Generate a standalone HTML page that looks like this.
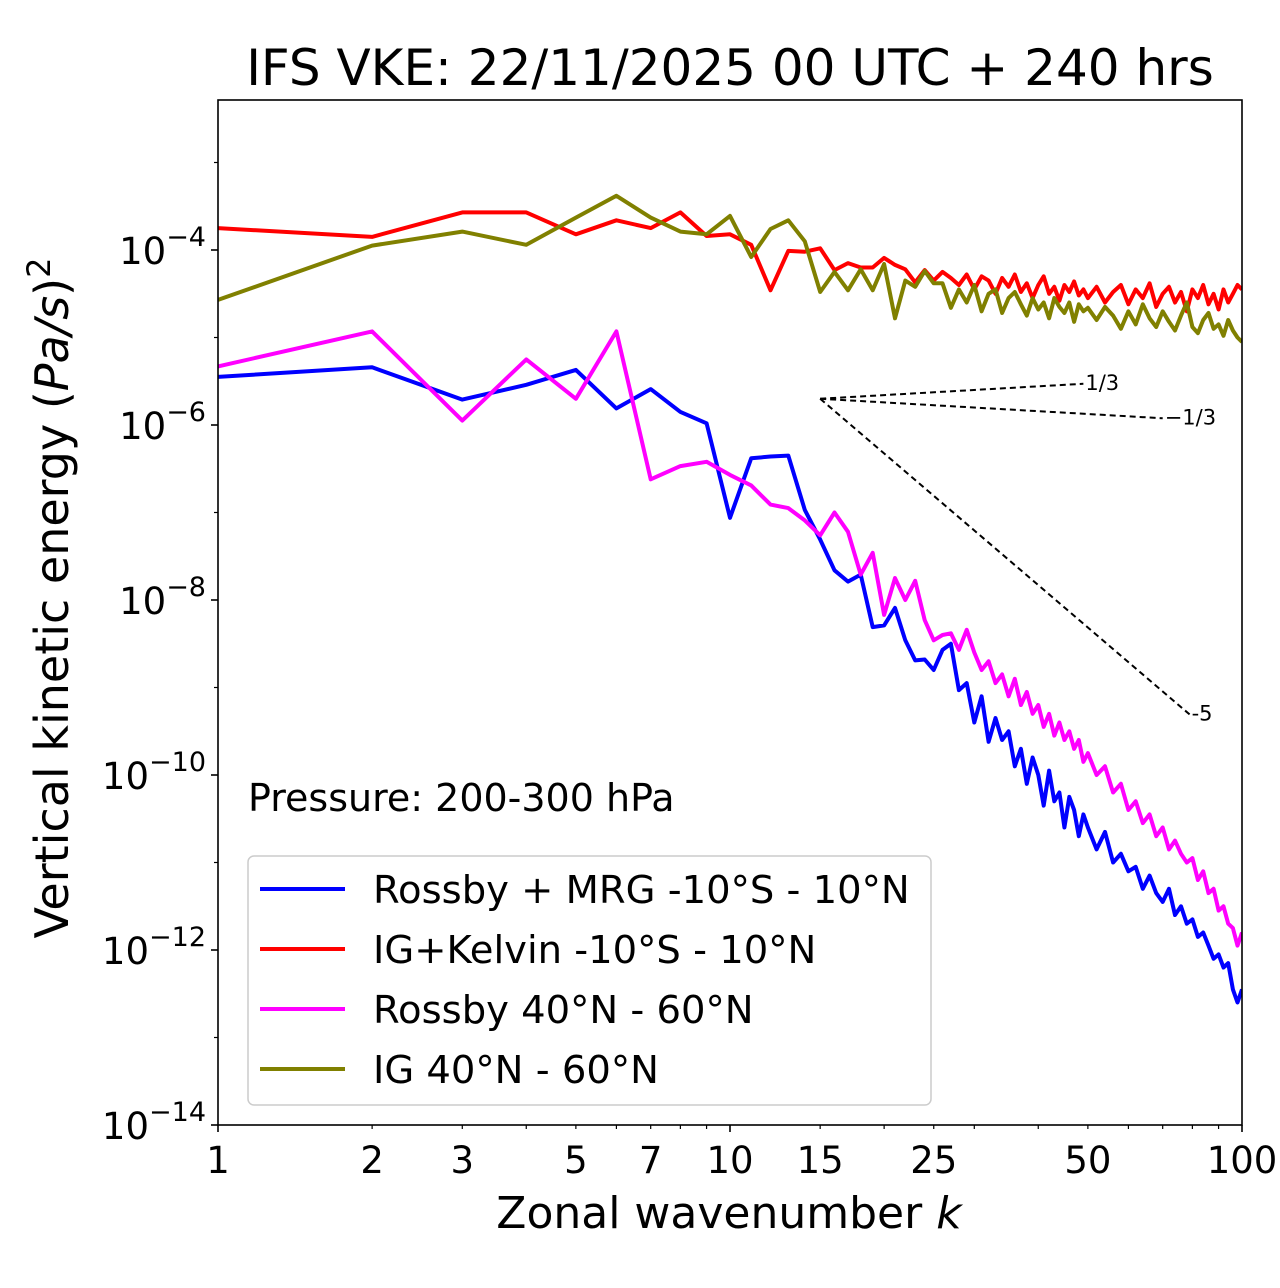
<!DOCTYPE html>
<html><head><meta charset="utf-8"><style>
html,body{margin:0;padding:0;background:#fff;}
svg{display:block;font-family:"DejaVu Sans","Liberation Sans",sans-serif;}
</style></head><body>
<svg id="chart" width="1280" height="1288" viewBox="0 0 1280 1288" xmlns="http://www.w3.org/2000/svg">
<rect width="1280" height="1288" fill="#fff"/>
<text x="730" y="85" font-size="50" text-anchor="middle">IFS VKE: 22/11/2025 00 UTC + 240 hrs</text>
<g id="plot"></g>
<rect x="218" y="100" width="1024" height="1025" fill="none" stroke="#000" stroke-width="1.6"/>
<text x="729" y="1228" font-size="44" text-anchor="middle">Zonal wavenumber <tspan font-style="italic">k</tspan></text>
<text transform="translate(68,598) rotate(-90)" font-size="46" text-anchor="middle">Vertical kinetic energy (<tspan font-style="italic">Pa/s</tspan>)<tspan dy="-18" font-size="32">2</tspan></text>
<text x="248" y="811" font-size="38">Pressure: 200-300 hPa</text>
<g>
<rect x="248" y="856" width="683" height="249" rx="6" fill="#fff" stroke="#ccc" stroke-width="1.5"/>
<g><line x1="260" y1="889" x2="345" y2="889" stroke="#0000ff" stroke-width="4"/><text x="373" y="903" font-size="38.5">Rossby + MRG -10°S - 10°N</text></g>
<g><line x1="260" y1="949" x2="345" y2="949" stroke="#ff0000" stroke-width="4"/><text x="373" y="963" font-size="38.5">IG+Kelvin -10°S - 10°N</text></g>
<g><line x1="260" y1="1009" x2="345" y2="1009" stroke="#ff00ff" stroke-width="4"/><text x="373" y="1023" font-size="38.5">Rossby 40°N - 60°N</text></g>
<g><line x1="260" y1="1069" x2="345" y2="1069" stroke="#808000" stroke-width="4"/><text x="373" y="1083" font-size="38.5">IG 40°N - 60°N</text></g>
</g>
</svg>
<script>
const kAll = [1,2,3,4,5,6,7,8,9,10,11,12,13,14,15,16,17,18,19,20,21,22,23,24,25,26,27,28,29,30,31,32,33,34,35,36,37,38,39,40,41,42,43,44,45,46,47,48,49,50,52,54,56,58,60,62,64,66,68,70,72,74,76,78,80,82,84,86,88,90,92,94,96,98,100];
const blueLog = [-5.45,-5.34,-5.71,-5.54,-5.37,-5.81,-5.59,-5.85,-5.98,-7.06,-6.38,-6.36,-6.35,-6.97,-7.31,-7.66,-7.79,-7.71,-8.31,-8.29,-8.09,-8.46,-8.69,-8.68,-8.80,-8.57,-8.50,
-9.03,-8.95,-9.40,-9.10,-9.62,-9.35,-9.60,-9.50,-9.90,-9.70,-10.10,-9.80,-10.00,-10.35,-9.95,-10.30,-10.20,-10.60,-10.25,-10.40,-10.70,-10.45,-10.60,
-10.85,-10.65,-11.00,-10.90,-11.10,-11.05,-11.30,-11.15,-11.35,-11.45,-11.30,-11.60,-11.50,-11.70,-11.65,-11.85,-11.80,-11.95,-12.10,-12.05,-12.20,-12.15,-12.45,-12.60,-12.45];
const magentaLog = [-5.33,-4.93,-5.95,-5.25,-5.70,-4.93,-6.62,-6.47,-6.42,-6.57,-6.69,-6.91,-6.95,-7.09,-7.26,-7.00,-7.22,-7.71,-7.46,-8.17,-7.75,-8.00,-7.78,-8.23,-8.46,-8.40,-8.38,
-8.57,-8.34,-8.60,-8.80,-8.70,-8.95,-8.85,-9.10,-8.90,-9.20,-9.05,-9.30,-9.20,-9.45,-9.30,-9.55,-9.40,-9.60,-9.50,-9.70,-9.60,-9.85,-9.75,
-10.00,-9.90,-10.20,-10.10,-10.40,-10.30,-10.55,-10.45,-10.70,-10.60,-10.85,-10.75,-10.90,-11.00,-10.95,-11.20,-11.10,-11.35,-11.30,-11.55,-11.50,-11.70,-11.75,-11.95,-11.80];
const redLog = [-3.75,-3.85,-3.57,-3.57,-3.82,-3.66,-3.75,-3.57,-3.84,-3.82,-3.94,-4.46,-4.01,-4.02,-3.98,-4.23,-4.15,-4.20,-4.20,-4.09,-4.17,-4.22,-4.37,-4.23,-4.35,-4.25,-4.32,
-4.40,-4.28,-4.45,-4.30,-4.35,-4.50,-4.32,-4.42,-4.28,-4.48,-4.38,-4.55,-4.40,-4.30,-4.50,-4.42,-4.58,-4.40,-4.48,-4.36,-4.52,-4.45,-4.55,
-4.42,-4.60,-4.48,-4.40,-4.62,-4.45,-4.55,-4.38,-4.65,-4.50,-4.42,-4.60,-4.48,-4.70,-4.45,-4.55,-4.40,-4.62,-4.50,-4.68,-4.45,-4.60,-4.50,-4.40,-4.45];
const oliveLog = [-4.57,-3.95,-3.79,-3.94,-3.63,-3.38,-3.63,-3.79,-3.82,-3.61,-4.08,-3.76,-3.66,-3.90,-4.48,-4.25,-4.46,-4.22,-4.46,-4.16,-4.78,-4.35,-4.42,-4.24,-4.38,-4.38,-4.66,
-4.45,-4.60,-4.40,-4.70,-4.50,-4.45,-4.72,-4.55,-4.48,-4.62,-4.75,-4.55,-4.68,-4.60,-4.78,-4.55,-4.65,-4.72,-4.60,-4.82,-4.62,-4.70,-4.66,
-4.80,-4.65,-4.75,-4.90,-4.70,-4.85,-4.62,-4.78,-4.88,-4.70,-4.82,-4.92,-4.75,-4.60,-4.88,-4.95,-4.80,-4.72,-4.90,-4.85,-4.98,-4.80,-4.92,-5.00,-5.05];
const xTickLabels = [1,2,3,5,7,10,15,25,50,100];
const xMinorTicks = [4,6,8,9,20,30,40,60,70,80,90];
const yTickExps = [-4,-6,-8,-10,-12,-14];
const slopeRefK = 15, slopeRefLog = -5.70;
const slopes = [1/3,-1/3,-5];
const slopeEnds = [49,70,79];
const slopeLabels = ["1/3","\u22121/3","-5"];

const X0=218,X1=1242,Y0=100,Y1=1125;
function xs(k){return X0+Math.log10(k)/2*(X1-X0);}
function ys(lg){return 250-(lg+4)*87.5;}
const NS="http://www.w3.org/2000/svg";
const plot=document.getElementById('plot');
function mk(tag,attrs){const e=document.createElementNS(NS,tag);for(const a in attrs)e.setAttribute(a,attrs[a]);return e;}

const defs=mk('defs',{});const cp=mk('clipPath',{id:'clip'});cp.appendChild(mk('rect',{x:X0,y:Y0,width:X1-X0,height:Y1-Y0}));defs.appendChild(cp);plot.appendChild(defs);

[1,10,100].forEach(k=>{const t=mk('line',{x1:xs(k),x2:xs(k),y1:Y1,y2:Y1+7,stroke:'#000','stroke-width':1.6});


plot.appendChild(t);});
xMinorTicks.concat([2,3,5,7,15,25,50]).forEach(k=>{const t=mk('line',{x1:xs(k),x2:xs(k),y1:Y1,y2:Y1+4,stroke:'#000','stroke-width':1.2});


plot.appendChild(t);});
xTickLabels.forEach(k=>{const t=mk('text',{x:xs(k),y:Y1+48,'font-size':37,'text-anchor':'middle'});t.textContent=k;


plot.appendChild(t);});
for(let e=-14;e<=-3;e++){const major=(e%2===0);const t=mk('line',{x1:X0-(major?7:4),x2:X0,y1:ys(e),y2:ys(e),stroke:'#000','stroke-width':major?1.6:1.2});


plot.appendChild(t);}
yTickExps.forEach(e=>{const t=mk('text',{x:X0-12,y:ys(e)+14,'font-size':37,'text-anchor':'end'});
const a=mk('tspan',{});a.textContent='10';const b=mk('tspan',{dy:-18,'font-size':27});b.textContent='\u2212'+(-e);
t.appendChild(a);t.appendChild(b);


plot.appendChild(t);});

const g=mk('g',{'clip-path':'url(#clip)'});plot.appendChild(g);
[[blueLog,'#0000ff','series-rossby-mrg'],[redLog,'#ff0000','series-ig-kelvin'],[magentaLog,'#ff00ff','series-rossby-40-60'],[oliveLog,'#808000','series-ig-40-60']].forEach(([v,c,n])=>{
const d=v.map((y,i)=>(i?'L':'M')+xs(kAll[i]).toFixed(1)+','+ys(y).toFixed(1)).join(' ');
const p=mk('path',{d:d,fill:'none',stroke:c,'stroke-width':4,'stroke-linejoin':'round'});


g.appendChild(p);});

slopes.forEach((s,i)=>{const k2=slopeEnds[i];const y2=slopeRefLog+s*Math.log10(k2/slopeRefK);
const l=mk('line',{x1:xs(slopeRefK),y1:ys(slopeRefLog),x2:xs(k2),y2:ys(y2),stroke:'#000','stroke-width':2,'stroke-dasharray':'6,4'});


plot.appendChild(l);
const t=mk('text',{x:xs(k2)+2,y:ys(y2)+6,'font-size':21});t.textContent=slopeLabels[i];


plot.appendChild(t);});
</script>
</body></html>
